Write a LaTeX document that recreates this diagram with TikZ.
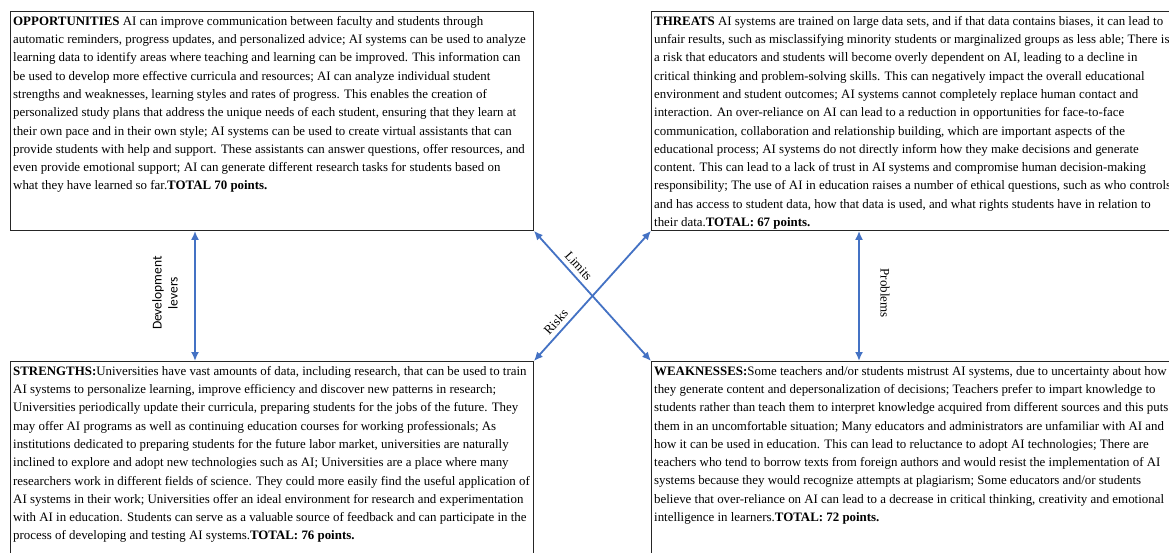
\documentclass[tikz,border=0pt]{standalone}
\usepackage{fontspec}
\setmainfont{Liberation Serif}
\newfontfamily\calibrifont{Carlito}
\usetikzlibrary{arrows.meta}
\definecolor{arrowblue}{HTML}{4472C4}
\begin{document}
\begin{tikzpicture}[x=1pt,y=-1pt,
  box/.style={draw=black!85, line width=0.9pt, anchor=north west, inner sep=0pt},
  txt/.style={anchor=north west, inner sep=0pt, align=left, font=\fontsize{12.9}{18.3}\selectfont},
  arr/.style={draw=arrowblue, line width=1.8pt, {Latex[length=9pt,width=8pt]}-{Latex[length=9pt,width=8pt]}},
  lbl/.style={text=black, font=\fontsize{13}{15}\selectfont, inner sep=1.5pt}]
\useasboundingbox (0,0) rectangle (1169,552);
\fill[white] (0,0) rectangle (1169,552);
\clip (0,0) rectangle (1169,552);
% boxes
\node[box, minimum width=523pt, minimum height=219pt] (opp) at (10,11) {};
\node[box, minimum width=530pt, minimum height=219pt] (thr) at (651,11) {};
\node[box, minimum width=523pt, minimum height=200pt] (str) at (10,361) {};
\node[box, minimum width=530pt, minimum height=200pt] (wea) at (651,361) {};
% texts
\node[txt] (oppt) at (13,16) {\textbf{OPPORTUNITIES} AI can improve communication between faculty and students through\\
automatic reminders, progress updates, and personalized advice; AI systems can be used to analyze\\
learning data to identify areas where teaching and learning can be improved. This information can\\
be used to develop more effective curricula and resources; AI can analyze individual student\\
strengths and weaknesses, learning styles and rates of progress. This enables the creation of\\
personalized study plans that address the unique needs of each student, ensuring that they learn at\\
their own pace and in their own style; AI systems can be used to create virtual assistants that can\\
provide students with help and support. These assistants can answer questions, offer resources, and\\
even provide emotional support; AI can generate different research tasks for students based on\\
what they have learned so far.\textbf{TOTAL 70 points.}};
\node[txt] (thrt) at (654,16) {\textbf{THREATS} AI systems are trained on large data sets, and if that data contains biases, it can lead to\\
unfair results, such as misclassifying minority students or marginalized groups as less able; There is\\
a risk that educators and students will become overly dependent on AI, leading to a decline in\\
critical thinking and problem-solving skills. This can negatively impact the overall educational\\
environment and student outcomes; AI systems cannot completely replace human contact and\\
interaction. An over-reliance on AI can lead to a reduction in opportunities for face-to-face\\
communication, collaboration and relationship building, which are important aspects of the\\
educational process; AI systems do not directly inform how they make decisions and generate\\
content. This can lead to a lack of trust in AI systems and compromise human decision-making\\
responsibility; The use of AI in education raises a number of ethical questions, such as who controls\\
and has access to student data, how that data is used, and what rights students have in relation to\\
their data.\textbf{TOTAL: 67 points.}};
\node[txt] (strt) at (13,366) {\textbf{STRENGTHS:}Universities have vast amounts of data, including research, that can be used to train\\
AI systems to personalize learning, improve efficiency and discover new patterns in research;\\
Universities periodically update their curricula, preparing students for the jobs of the future. They\\
may offer AI programs as well as continuing education courses for working professionals; As\\
institutions dedicated to preparing students for the future labor market, universities are naturally\\
inclined to explore and adopt new technologies such as AI; Universities are a place where many\\
researchers work in different fields of science. They could more easily find the useful application of\\
AI systems in their work; Universities offer an ideal environment for research and experimentation\\
with AI in education. Students can serve as a valuable source of feedback and can participate in the\\
process of developing and testing AI systems.\textbf{TOTAL: 76 points.}};
\node[txt] (weat) at (654,366) {\textbf{WEAKNESSES:}Some teachers and/or students mistrust AI systems, due to uncertainty about how\\
they generate content and depersonalization of decisions; Teachers prefer to impart knowledge to\\
students rather than teach them to interpret knowledge acquired from different sources and this puts\\
them in an uncomfortable situation; Many educators and administrators are unfamiliar with AI and\\
how it can be used in education. This can lead to reluctance to adopt AI technologies; There are\\
teachers who tend to borrow texts from foreign authors and would resist the implementation of AI\\
systems because they would recognize attempts at plagiarism; Some educators and/or students\\
believe that over-reliance on AI can lead to a decrease in critical thinking, creativity and emotional\\
intelligence in learners.\textbf{TOTAL: 72 points.}};
% connectors
\coordinate (dvx) at (195,0);
\coordinate (prx) at (859,0);
\draw[arr] (dvx |- opp.south) -- (dvx |- str.north);
\draw[arr] (prx |- thr.south) -- (prx |- wea.north);
\draw[arr] (opp.south east) -- node[lbl, sloped, above=3pt, pos=0.32] (lim) {Limits} (wea.north west);
\draw[arr] (thr.south west) -- node[lbl, sloped, above=3pt, pos=0.75] (rsk) {Risks} (str.north east);
% side labels
\node[lbl, rotate=90, align=center, font=\calibrifont\fontsize{13.5}{16}\selectfont] (dev) at (165,293) {Development\\levers};
\node[lbl, rotate=-90] (prob) at (885,293) {Problems};
\end{tikzpicture}
\end{document}
